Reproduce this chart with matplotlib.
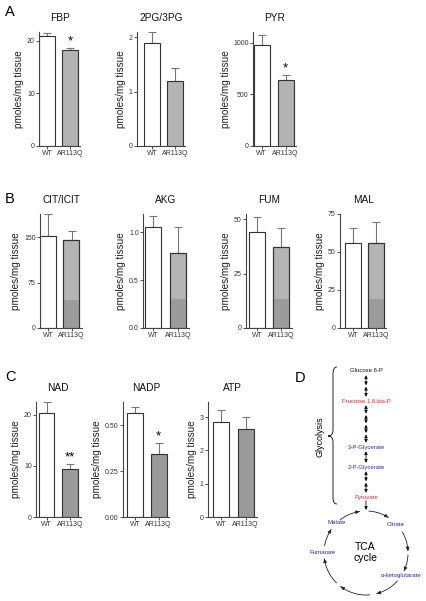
import numpy as np
import matplotlib
matplotlib.use('Agg')
import matplotlib.pyplot as plt
from matplotlib.path import Path
from matplotlib.patches import PathPatch

plt.rcParams['font.family'] = ['Liberation Sans', 'DejaVu Sans']

# ---- data ----
groups = ['WT', 'AR113Q']

a_names = ['FBP', '2PG/3PG', 'PYR']
a_wt = [20.9, 1.90, 980]
a_wt_err = [0.6, 0.20, 92]
a_ar = [18.2, 1.20, 635]
a_ar_err = [0.4, 0.23, 48]
a_sig = ['*', '', '*']
a_ylim = [21.7, 2.1, 1105]
a_ticks = [[0, 10, 20], [0, 1, 2], [0, 500, 1000]]
a_ticklabels = [['0', '10', '20'], ['0', '1', '2'], ['0', '500', '1000']]

b_names = ['CIT/ICIT', 'AKG', 'FUM', 'MAL']
b_wt = [152, 1.05, 44, 56]
b_wt_err = [36, 0.12, 7, 9.5]
b_ar = [145, 0.78, 37.5, 56]
b_ar_err = [15, 0.27, 8.5, 14]
b_ar_low = [47, 0.30, 13.3, 19]
b_ylim = [188, 1.19, 52.5, 75]
b_ticks = [[0, 75, 150], [0, 0.5, 1.0], [0, 25, 50], [0, 25, 50, 75]]
b_ticklabels = [['0', '75', '150'], ['0.0', '0.5', '1.0'], ['0', '25', '50'],
                ['0', '25', '50', '75']]

c_names = ['NAD', 'NADP', 'ATP']
c_wt = [20.3, 0.565, 2.85]
c_wt_err = [2.2, 0.035, 0.35]
c_ar = [9.3, 0.345, 2.64]
c_ar_err = [1.1, 0.055, 0.36]
c_sig = ['**', '*', '']
c_ylim = [22.5, 0.625, 3.45]
c_ticks = [[0, 10, 20], [0, 0.25, 0.5], [0, 1, 2, 3]]
c_ticklabels = [['0', '10', '20'], ['0.00', '0.25', '0.50'], ['0', '1', '2', '3']]

# ---- layout (pixels) ----
W, H = 426, 601
fig = plt.figure(figsize=(W / 100, H / 100), dpi=100)

edge = '#333333'
errc = '#777777'


def make_ax(spine, wt_c, sp, ytop, ybot):
    lo = (spine - wt_c) / sp
    x1 = wt_c + 1.45 * sp
    ax = fig.add_axes([spine / W, 1 - ybot / H, (x1 - spine) / W, (ybot - ytop) / H])
    ax.set_xlim(lo, 1.45)
    for s in ['top', 'right']:
        ax.spines[s].set_visible(False)
    for s in ['left', 'bottom']:
        ax.spines[s].set_color('#444444')
        ax.spines[s].set_linewidth(0.8)
    ax.tick_params(length=2, width=0.6, pad=1, labelsize=5, colors='#333333')
    ax.set_xticks([0, 1])
    ax.set_xticklabels(groups)
    ax.set_ylabel('pmoles/mg tissue', fontsize=7.2, labelpad=2, color='#222222')
    return ax, 16.0 / sp


def bars(ax, w, name, wt, wte, ar, are, arcol, ylim, ticks, tl, sig='', low=None, lowcol=None):
    ax.bar(0, wt, w, color='white', edgecolor=edge, linewidth=0.8, zorder=2)
    ax.bar(1, ar, w, color=arcol, edgecolor=edge, linewidth=0.8, zorder=2)
    if low is not None:
        ax.bar(1, low, w, color=lowcol, edgecolor='none', zorder=2.5)
        ax.bar(1, ar, w, color='none', edgecolor=edge, linewidth=0.8, zorder=3)
    ax.errorbar([0, 1], [wt, ar], yerr=[[0, 0], [wte, are]], fmt='none',
                ecolor=errc, elinewidth=0.8, capsize=3, capthick=0.8, zorder=1)
    ax.set_ylim(0, ylim)
    ax.set_yticks(ticks)
    ax.set_yticklabels(tl)
    ax.set_title(name, fontsize=7.3, pad=8, color='#111111')
    if sig:
        ax.text(1, ar + are + ylim * 0.005, sig, ha='center', va='bottom', fontsize=9.5)


# panel A
a_pos = [(39, 47, 23), (137, 152, 23), (253, 261.5, 24)]
for i in range(3):
    ax, w = make_ax(*a_pos[i], 31.7, 146)
    bars(ax, w, a_names[i], a_wt[i], a_wt_err[i], a_ar[i], a_ar_err[i], '#b3b3b3',
         a_ylim[i], a_ticks[i], a_ticklabels[i], a_sig[i])

# panel B
b_pos = [(40, 48, 23.5), (143, 153, 25), (246, 257, 24), (340, 353, 23)]
for i in range(4):
    ax, w = make_ax(*b_pos[i], 214, 328)
    bars(ax, w, b_names[i], b_wt[i], b_wt_err[i], b_ar[i], b_ar_err[i], '#b4b4b4',
         b_ylim[i], b_ticks[i], b_ticklabels[i], low=b_ar_low[i], lowcol='#9b9b9b')

# panel C
c_pos = [(36, 46.5, 23.5), (123, 135, 23.5), (208, 221, 24.5)]
for i in range(3):
    ax, w = make_ax(*c_pos[i], 402, 517)
    bars(ax, w, c_names[i], c_wt[i], c_wt_err[i], c_ar[i], c_ar_err[i], '#9a9a9a',
         c_ylim[i], c_ticks[i], c_ticklabels[i], c_sig[i])

# overlay for letters and pathway diagram (pixel coordinates)
ov = fig.add_axes([0, 0, 1, 1])
ov.set_xlim(0, W)
ov.set_ylim(H, 0)
ov.axis('off')
ov.patch.set_visible(False)

for lab, x, y in [('A', 10, 12), ('B', 10, 199), ('C', 10, 377), ('D', 300, 378)]:
    ov.text(x, y, lab, fontsize=10.5, ha='center', va='center')

red = '#e02a2e'
blue = '#2c2ca0'
ax_x = 366
for txt, y, col in [('Glucose 6-P', 371, '#111111'), ('Fructose 1,6-bis-P', 401, red),
                    ('3-P-Glycerate', 447, blue), ('2-P-Glycerate', 467, blue),
                    ('Pyruvate', 497, red)]:
    ov.text(ax_x, y, txt, fontsize=4.3, color=col, ha='center', va='center')


def dbl(y0, y1, n):
    edges = np.linspace(y0, y1, n + 1)
    for k in range(n):
        ov.annotate('', xy=(ax_x, edges[k + 1] - 0.7), xytext=(ax_x, edges[k] + 0.7),
                    arrowprops=dict(arrowstyle='<|-|>', color='#111111', lw=0.6,
                                    mutation_scale=4.5, shrinkA=0, shrinkB=0))


dbl(374.5, 397.5, 2)
dbl(404.5, 443.5, 4)
dbl(450.5, 463.5, 1)
dbl(470.5, 493.5, 2)
ov.annotate('', xy=(ax_x, 510), xytext=(ax_x, 500.5),
            arrowprops=dict(arrowstyle='-|>', color='#111111', lw=0.6,
                            mutation_scale=4.5, shrinkA=0, shrinkB=0))

# brace
verts = [(337, 367), (333, 367), (333, 374), (333, 430), (333, 436), (328, 436),
         (333, 436), (333, 442), (333, 498), (333, 504), (337, 504)]
codes = [Path.MOVETO, Path.CURVE3, Path.CURVE3, Path.LINETO, Path.CURVE3, Path.CURVE3,
         Path.CURVE3, Path.CURVE3, Path.LINETO, Path.CURVE3, Path.CURVE3]
ov.add_patch(PathPatch(Path(verts, codes), fill=False, lw=0.7, color='#222222'))
ov.text(320, 437, 'Glycolysis', rotation=90, fontsize=6.5, ha='center', va='center')

# TCA cycle
cx, cy, r = 366, 553, 42
arcs = [(86, 58), (30, 3), (-3, -25), (-42, -75), (-85, -127), (-135, -172),
        (170, 146), (128, 99)]
for a0, a1 in arcs:
    t = np.radians(np.linspace(a0, a1, 40))
    xs = cx + r * np.cos(t)
    ys = cy - r * np.sin(t)
    ov.plot(xs, ys, color='#222222', lw=0.6)
    ov.annotate('', xy=(xs[-1], ys[-1]), xytext=(xs[-6], ys[-6]),
                arrowprops=dict(arrowstyle='-|>', color='#222222', lw=0.6,
                                mutation_scale=5, shrinkA=0, shrinkB=0))

for txt, x, y in [('Malate', 337, 523), ('Citrate', 396, 525), ('Fumarate', 323, 552),
                  ('\u03b1-ketoglutarate', 401, 575)]:
    ov.text(x, y, txt, fontsize=4.4, color=blue, ha='center', va='center')
ov.text(365, 547, 'TCA', fontsize=7.5, ha='center', va='center')
ov.text(365, 558, 'cycle', fontsize=7.5, ha='center', va='center')

fig.savefig('out.png', dpi=100)
